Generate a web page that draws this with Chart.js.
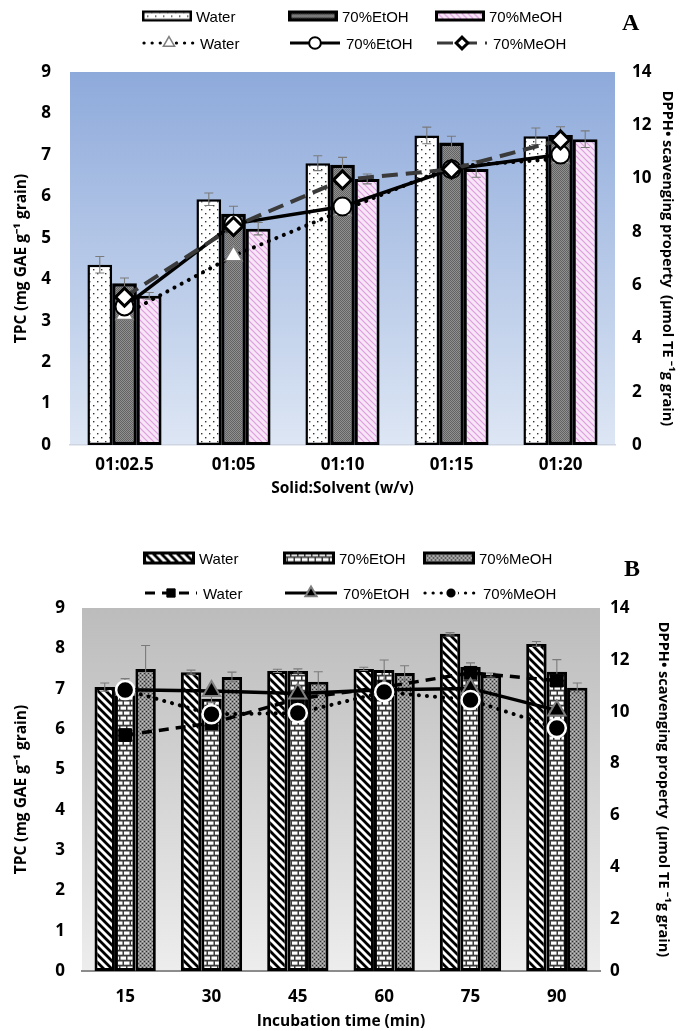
<!DOCTYPE html>
<html>
<head>
<meta charset="utf-8">
<script src="https://cdn.jsdelivr.net/npm/chart.js@4.4.1/dist/chart.umd.min.js"></script>
<style>
    body { margin: 0; background: #fff; width: 681px; }
    .panel { position: relative; width: 681px; overflow: hidden; }
    .panel canvas.chart { position: absolute; left: 0; top: 0; }
    .lg { position: absolute; display: flex; align-items: center; transform: translateY(-50%);
          font: 15px "Liberation Sans", Arial, sans-serif; color: #000; white-space: nowrap; }
    .lg canvas { margin-right: 4px; }
    .tag { position: absolute; font: bold 24px "Liberation Serif", serif; transform: translateY(-50%); }
</style>
</head>
<body>
<div class="panel" id="panelA" style="height:505px">
    <canvas class="chart" id="chartA" width="681" height="505"></canvas>
</div>
<div class="panel" id="panelB" style="height:526px">
    <canvas class="chart" id="chartB" width="681" height="526"></canvas>
</div>
<script>
// panel A - solid:solvent ratio
const ratioLabels = ["01:02.5", "01:05", "01:10", "01:15", "01:20"]
const tpcWaterA = [4.35, 5.93, 6.8, 7.47, 7.45]
const tpcEtohA = [3.9, 5.58, 6.76, 7.3, 7.48]
const tpcMeohA = [3.6, 5.22, 6.42, 6.66, 7.38]
const tpcWaterErrA = [0.2, 0.15, 0.18, 0.2, 0.2]
const tpcEtohErrA = [0.13, 0.18, 0.18, 0.15, 0.2]
const tpcMeohErrA = [0.08, 0.15, 0.12, 0.2, 0.2]
const dpphWaterA = [4.9, 7.1, 8.8, 10.45, 10.75]
const dpphEtohA = [5.2, 8.3, 8.95, 10.35, 10.9]
const dpphMeohA = [5.55, 8.2, 9.95, 10.35, 11.45]

// panel B - incubation time
const timeLabels = ["15", "30", "45", "60", "75", "90"]
const tpcWaterB = [7.04, 7.41, 7.44, 7.49, 8.36, 8.11]
const tpcEtohB = [7.0, 6.75, 7.44, 7.46, 7.54, 7.42]
const tpcMeohB = [7.49, 7.29, 7.17, 7.39, 7.34, 7.02]
const tpcWaterErrB = [0.1, 0.05, 0.04, 0.04, 0.03, 0.06]
const tpcEtohErrB = [0.25, 0.1, 0.05, 0.25, 0.1, 0.3]
const tpcMeohErrB = [0.58, 0.12, 0.25, 0.18, 0.05, 0.12]
const dpphWaterB = [9.1, 9.56, 10.5, 10.95, 11.5, 11.2]
const dpphEtohB = [10.85, 10.8, 10.7, 10.85, 10.9, 10.05]
const dpphMeohB = [10.84, 9.9, 9.95, 10.76, 10.45, 9.37]

// axis ticks
const tpcMax = 9
const tpcStep = 1
const dpphMax = 14
const dpphStep = 2

const tickFont = { family: "'Open Sans', sans-serif", weight: "bold", size: 17 }
const titleFont = { family: "'Open Sans', sans-serif", weight: "bold", size: 15.5 }
const rightTitleFont = { family: "'Open Sans', sans-serif", weight: "bold", size: 14.5 }
const tpcTitle = "TPC (mg GAE g\u207B\u00B9 grain)"
const dpphTitle = "DPPH\u2022 scavenging property  (\u00B5mol TE \u207B\u00B9g grain)"

// fill patterns for the bars
function makePattern(kind) {
    const c = document.createElement("canvas")
    const g = c.getContext("2d")
    if (kind === "dots") {
        c.width = 8; c.height = 8
        g.fillStyle = "#fff"; g.fillRect(0, 0, 8, 8)
        g.fillStyle = "#333"
        g.fillRect(1, 1, 1.4, 1.4); g.fillRect(5, 5, 1.4, 1.4)
    } else if (kind === "greyFine") {
        c.width = 2; c.height = 2
        g.fillStyle = "#909090"; g.fillRect(0, 0, 2, 2)
        g.fillStyle = "#626262"; g.fillRect(0, 0, 1, 1); g.fillRect(1, 1, 1, 1)
    } else if (kind === "pinkHatch") {
        c.width = 6; c.height = 6
        g.fillStyle = "#f8e6f8"; g.fillRect(0, 0, 6, 6)
        g.strokeStyle = "#dc9edc"; g.lineWidth = 1.2
        g.beginPath()
        g.moveTo(-1, -1); g.lineTo(7, 7)
        g.moveTo(-1, 5); g.lineTo(1, 7)
        g.moveTo(5, -1); g.lineTo(7, 1)
        g.stroke()
    } else if (kind === "stripes") {
        c.width = 8; c.height = 8
        g.fillStyle = "#fff"; g.fillRect(0, 0, 8, 8)
        g.strokeStyle = "#000"; g.lineWidth = 2.8
        g.beginPath()
        g.moveTo(-2, -2); g.lineTo(10, 10)
        g.moveTo(-2, 6); g.lineTo(2, 10)
        g.moveTo(6, -2); g.lineTo(10, 2)
        g.stroke()
    } else if (kind === "brick") {
        c.width = 14; c.height = 10
        g.fillStyle = "#3a3a3a"; g.fillRect(0, 0, 14, 10)
        g.fillStyle = "#fff"
        g.fillRect(1.5, 1.5, 5.5, 3.2); g.fillRect(8.5, 1.5, 5.5, 3.2)
        g.fillRect(-2, 6.5, 5.5, 3.2); g.fillRect(5, 6.5, 5.5, 3.2); g.fillRect(12, 6.5, 5.5, 3.2)
    } else if (kind === "shingle") {
        c.width = 4; c.height = 4
        g.fillStyle = "#8e8e8e"; g.fillRect(0, 0, 4, 4)
        g.fillStyle = "#2e2e2e"; g.fillRect(0, 0, 1, 1); g.fillRect(2, 2, 1, 1)
        g.fillStyle = "#c4c4c4"; g.fillRect(2, 0, 1, 1); g.fillRect(0, 2, 1, 1)
    }
    return g.createPattern(c, "repeat")
}

// plugins
const plotBackground = {
    id: "plotBackground",
    beforeDraw(chart, args, opts) {
        const { ctx, chartArea: a } = chart
        const grad = ctx.createLinearGradient(0, a.top, 0, a.bottom)
        grad.addColorStop(0, opts.top)
        grad.addColorStop(1, opts.bottom)
        ctx.save()
        ctx.fillStyle = grad
        ctx.fillRect(a.left, a.top, a.right - a.left, a.bottom - a.top)
        ctx.restore()
    },
}

const errorBars = {
    id: "errorBars",
    afterDatasetDraw(chart, args) {
        const ds = chart.data.datasets[args.index]
        if (!ds.errors) return
        const { ctx } = chart
        const scale = chart.scales[args.meta.yAxisID]
        ctx.save()
        ctx.strokeStyle = "#7a7a7a"
        ctx.lineWidth = 1.1
        args.meta.data.forEach((bar, i) => {
            const top = scale.getPixelForValue(ds.data[i] + ds.errors[i])
            const bottom = scale.getPixelForValue(ds.data[i] - ds.errors[i])
            ctx.beginPath()
            ctx.moveTo(bar.x, top); ctx.lineTo(bar.x, bottom)
            ctx.moveTo(bar.x - 4.5, top); ctx.lineTo(bar.x + 4.5, top)
            ctx.moveTo(bar.x - 4.5, bottom); ctx.lineTo(bar.x + 4.5, bottom)
            ctx.stroke()
        })
        ctx.restore()
    },
}

function main() {
    const panelA = {
        canvas: document.getElementById("chartA"),
        panel: document.getElementById("panelA"),
        labels: ratioLabels,
        xTitle: "Solid:Solvent (w/v)",
        area: { top: 72, left: 70, right: 66, xHeight: 60 },
        pad: { left: 19, right: 17, x: 10, leftTitle: 12.5, rightTitle: 5, xTitle: 7.5 },
        gradient: { top: "#8eaadb", bottom: "#dde6f4" },
        axisLine: { color: "#cfd6e2", width: 1.5 },
        categoryPercentage: 0.68,
        bars: [
            { label: "Water", data: tpcWaterA, errors: tpcWaterErrA, fill: makePattern("dots"), border: 2.5 },
            { label: "70%EtOH", data: tpcEtohA, errors: tpcEtohErrA, fill: makePattern("greyFine"), border: 3.5 },
            { label: "70%MeOH", data: tpcMeohA, errors: tpcMeohErrA, fill: makePattern("pinkHatch"), border: 3 },
        ],
        lines: [
            { label: "Water", data: dpphWaterA, order: 3, color: "#000", width: 4, dash: [0.1, 8], cap: "round",
              point: "triangle", radius: 10, pfill: "#fff", pstroke: "#7f7f7f", pwidth: 1.5 },
            { label: "70%EtOH", data: dpphEtohA, order: 2, color: "#000", width: 3.5, dash: [], cap: "butt",
              point: "circle", radius: 9, pfill: "#fff", pstroke: "#000", pwidth: 2 },
            { label: "70%MeOH", data: dpphMeohA, order: 1, color: "#3a3a3a", width: 4, dash: [16, 8], cap: "butt",
              point: "rectRot", radius: 9, pfill: "#fff", pstroke: "#000", pwidth: 3 },
        ],
        legend: { cols: [142, 288, 435], rows: [16, 43], swatch: [50, 11], tag: "A", tagPos: [622, 22] },
    }

    const panelB = {
        canvas: document.getElementById("chartB"),
        panel: document.getElementById("panelB"),
        labels: timeLabels,
        xTitle: "Incubation time (min)",
        area: { top: 103, left: 82, right: 81, xHeight: 60 },
        pad: { left: 17, right: 10, x: 16, leftTitle: 12.5, rightTitle: 9.5, xTitle: 0 },
        gradient: { top: "#bcbcbc", bottom: "#ededed" },
        axisLine: { color: "#8c8c8c", width: 2 },
        categoryPercentage: 0.71,
        bars: [
            { label: "Water", data: tpcWaterB, errors: tpcWaterErrB, fill: makePattern("stripes"), border: 3 },
            { label: "70%EtOH", data: tpcEtohB, errors: tpcEtohErrB, fill: makePattern("brick"), border: 3 },
            { label: "70%MeOH", data: tpcMeohB, errors: tpcMeohErrB, fill: makePattern("shingle"), border: 3 },
        ],
        lines: [
            { label: "Water", data: dpphWaterB, order: 3, color: "#000", width: 3.5, dash: [10, 7], cap: "butt",
              point: "rect", radius: 9, pfill: "#000", pstroke: "#000", pwidth: 1 },
            { label: "70%EtOH", data: dpphEtohB, order: 2, color: "#000", width: 3.5, dash: [], cap: "butt",
              point: "triangle", radius: 10, pfill: "#000", pstroke: "#808080", pwidth: 2 },
            { label: "70%MeOH", data: dpphMeohB, order: 1, color: "#000", width: 4, dash: [0.1, 8], cap: "round",
              point: "circle", radius: 9, pfill: "#000", pstroke: "#fff", pwidth: 2.5 },
        ],
        legend: { cols: [143, 283, 423], rows: [53, 88], swatch: [52, 13], tag: "B", tagPos: [624, 63] },
    }

    comboChart(panelA)
    comboChart(panelB)
    htmlLegend(panelA)
    htmlLegend(panelB)
}

// functions
function comboChart(p) {
    const lineSets = p.lines.map(s => ({
        type: "line",
        label: s.label,
        data: s.data,
        yAxisID: "y2",
        order: s.order,
        borderColor: s.color,
        borderWidth: s.width,
        borderDash: s.dash,
        borderCapStyle: s.cap,
        fill: false,
        tension: 0,
        pointStyle: s.point,
        pointRadius: s.radius,
        pointBackgroundColor: s.pfill,
        pointBorderColor: s.pstroke,
        pointBorderWidth: s.pwidth,
    }))
    const barSets = p.bars.map(s => ({
        type: "bar",
        label: s.label,
        data: s.data,
        errors: s.errors,
        yAxisID: "y",
        order: 10,
        backgroundColor: s.fill,
        borderColor: "#000",
        borderWidth: s.border,
        borderSkipped: false,
        categoryPercentage: p.categoryPercentage,
        barPercentage: 1,
    }))

    new Chart(p.canvas, {
        type: "bar",
        data: { labels: p.labels, datasets: [...barSets, ...lineSets] },
        options: {
            responsive: false,
            animation: false,
            layout: { padding: { top: p.area.top, left: 0, right: 0, bottom: 0 } },
            scales: {
                x: {
                    grid: { display: false, drawTicks: false },
                    border: { display: true, color: p.axisLine.color, width: p.axisLine.width },
                    ticks: { color: "#000", font: tickFont, padding: p.pad.x, maxRotation: 0 },
                    title: { display: true, text: p.xTitle, color: "#000", font: titleFont,
                             padding: { top: 0, bottom: p.pad.xTitle } },
                    afterFit: s => { s.height = p.area.xHeight },
                },
                y: {
                    position: "left",
                    min: 0,
                    max: tpcMax,
                    grid: { display: false, drawTicks: false },
                    border: { display: false },
                    ticks: { stepSize: tpcStep, color: "#000", font: tickFont, padding: p.pad.left },
                    title: { display: true, text: tpcTitle, color: "#000", font: titleFont,
                             padding: { top: p.pad.leftTitle, bottom: 0 } },
                    afterFit: s => { s.width = p.area.left },
                },
                y2: {
                    position: "right",
                    min: 0,
                    max: dpphMax,
                    grid: { display: false, drawTicks: false },
                    border: { display: false },
                    ticks: { stepSize: dpphStep, color: "#000", font: tickFont, padding: p.pad.right },
                    title: { display: true, text: dpphTitle, color: "#000", font: rightTitleFont,
                             padding: { top: p.pad.rightTitle, bottom: 0 } },
                    afterFit: s => { s.width = p.area.right },
                },
            },
            plugins: {
                legend: { display: false },
                tooltip: { enabled: false },
                plotBackground: p.gradient,
            },
        },
        plugins: [plotBackground, errorBars],
    })
}

function htmlLegend(p) {
    const L = p.legend
    const items = [
        ...p.bars.map(s => ({ kind: "bar", s })),
        ...p.lines.map(s => ({ kind: "line", s })),
    ]
    items.forEach((it, i) => {
        const el = document.createElement("div")
        el.className = "lg"
        el.style.left = L.cols[i % 3] + "px"
        el.style.top = L.rows[Math.floor(i / 3)] + "px"
        const sw = document.createElement("canvas")
        const g = sw.getContext("2d")
        if (it.kind === "bar") {
            sw.width = L.swatch[0]; sw.height = L.swatch[1]
            const b = it.s.border
            g.fillStyle = it.s.fill
            g.fillRect(0, 0, sw.width, sw.height)
            g.strokeStyle = "#000"
            g.lineWidth = b
            g.strokeRect(b / 2, b / 2, sw.width - b, sw.height - b)
        } else {
            sw.width = L.swatch[0] + 4; sw.height = 20
            const s = it.s
            g.strokeStyle = s.color
            g.lineWidth = s.width * 0.8
            g.lineCap = s.cap
            g.setLineDash(s.dash)
            g.beginPath()
            g.moveTo(2, 10); g.lineTo(sw.width - 2, 10)
            g.stroke()
            g.setLineDash([])
            g.fillStyle = s.pfill
            g.strokeStyle = s.pstroke
            g.lineWidth = s.pwidth
            Chart.helpers.drawPoint(g, { pointStyle: s.point, radius: s.radius * 0.65, borderWidth: s.pwidth, rotation: 0 },
                sw.width / 2, 10)
        }
        el.appendChild(sw)
        el.appendChild(document.createTextNode(it.s.label))
        p.panel.appendChild(el)
    })
    const tag = document.createElement("div")
    tag.className = "tag"
    tag.style.left = L.tagPos[0] + "px"
    tag.style.top = L.tagPos[1] + "px"
    tag.textContent = L.tag
    p.panel.appendChild(tag)
}

// listeners
document.addEventListener("DOMContentLoaded", main)
</script>
</body>
</html>
